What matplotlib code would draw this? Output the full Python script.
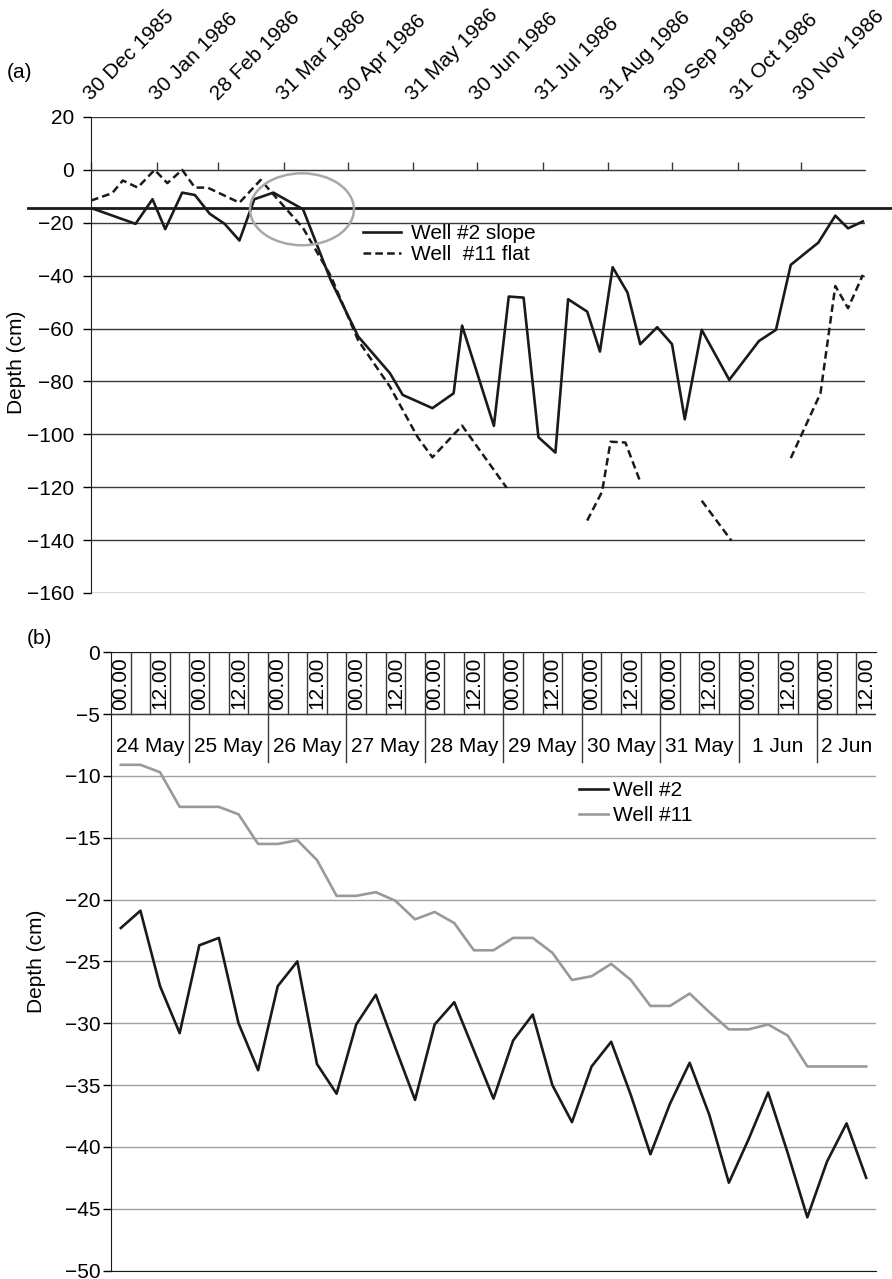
import numpy as np
import matplotlib
matplotlib.use('Agg')
import matplotlib.pyplot as plt
import matplotlib.dates as mdates
from matplotlib.patches import Ellipse

plt.rcParams['font.family'] = ['Liberation Sans', 'DejaVu Sans']
plt.rcParams['lines.scale_dashes'] = False
plt.rcParams['axes.unicode_minus'] = True

W, H, DPI = 892, 1279, 100
FS = 15
INK = '#1a1a1a'

# ---------------- Panel (a) data ----------------
well2_dates = ['1985-12-30', '1986-01-20', '1986-01-28', '1986-02-03', '1986-02-11',
               '1986-02-17', '1986-02-24', '1986-03-03', '1986-03-10', '1986-03-17',
               '1986-03-26', '1986-04-09', '1986-04-22', '1986-05-05', '1986-05-20',
               '1986-05-26', '1986-06-09', '1986-06-19', '1986-06-23', '1986-07-08',
               '1986-07-15', '1986-07-22', '1986-07-29', '1986-08-06', '1986-08-12',
               '1986-08-21', '1986-08-27', '1986-09-02', '1986-09-09', '1986-09-15',
               '1986-09-23', '1986-09-30', '1986-10-06', '1986-10-14', '1986-10-27',
               '1986-11-10', '1986-11-18', '1986-11-25', '1986-12-08', '1986-12-16',
               '1986-12-22', '1986-12-29']
well2_depth = [-14.4, -20.4, -11.1, -22.4, -8.6, -9.5, -16.6, -20.4, -26.7, -11.1,
               -8.6, -14.9, -41.6, -63.0, -76.9, -85.1, -90.1, -84.5, -58.9, -96.8,
               -47.9, -48.3, -101.1, -106.9, -48.9, -53.6, -68.7, -36.8, -46.4, -65.9,
               -59.5, -65.9, -94.3, -60.5, -79.4, -64.7, -60.5, -35.9, -27.5, -17.3,
               -22.1, -19.5]

well11_dates = ['1985-12-30', '1986-01-09', '1986-01-14', '1986-01-21', '1986-01-29',
                '1986-02-04', '1986-02-11', '1986-02-17', '1986-02-23', '1986-03-10',
                '1986-03-20', '1986-04-09', '1986-04-22', '1986-05-05', '1986-05-20',
                '1986-06-02', '1986-06-09', '1986-06-23', '1986-07-14', '1986-08-02',
                '1986-08-21', '1986-08-28', '1986-09-01', '1986-09-08', '1986-09-15',
                '1986-09-29', '1986-10-14', '1986-10-28', '1986-11-10', '1986-11-25',
                '1986-12-09', '1986-12-16', '1986-12-22', '1986-12-29']
well11_depth = [-11.6, -8.8, -4.0, -6.7, 0.0, -5.0, 0.0, -6.7, -6.7, -12.4,
                -3.8, -22.0, -40.0, -64.5, -82.0, -101.0, -108.7, -96.7, -120.2, np.nan,
                -132.6, -121.7, -102.8, -103.1, -117.9, np.nan, -125.1, -140.2, np.nan,
                -109.0, -84.5, -43.9, -52.3, -39.7]

tick_dates = ['1985-12-30', '1986-01-30', '1986-02-28', '1986-03-31', '1986-04-30',
              '1986-05-31', '1986-06-30', '1986-07-31', '1986-08-31', '1986-09-30',
              '1986-10-31', '1986-11-30']
tick_labels = ['30 Dec 1985', '30 Jan 1986', '28 Feb 1986', '31 Mar 1986', '30 Apr 1986',
               '31 May 1986', '30 Jun 1986', '31 Jul 1986', '31 Aug 1986', '30 Sep 1986',
               '31 Oct 1986', '30 Nov 1986']
ref_depth = -14.4

# ---------------- Panel (b) data ----------------
day_labels = ['24 May', '25 May', '26 May', '27 May', '28 May', '29 May',
              '30 May', '31 May', '1 Jun', '2 Jun']
slot_labels = ['00.00', '', '12.00', '']
well2_b = [-22.3, -20.9, -27.0, -30.8, -23.7, -23.1, -30.0, -33.8, -27.0, -25.0,
           -33.3, -35.7, -30.1, -27.7, -32.0, -36.2, -30.1, -28.3, -32.2, -36.1,
           -31.4, -29.3, -35.0, -38.0, -33.5, -31.5, -35.8, -40.6, -36.5, -33.2,
           -37.4, -42.9, -39.4, -35.6, -40.5, -45.7, -41.2, -38.1, -42.5]
well11_b = [-9.1, -9.1, -9.7, -12.5, -12.5, -12.5, -13.1, -15.5, -15.5, -15.2,
            -16.8, -19.7, -19.7, -19.4, -20.1, -21.6, -21.0, -21.9, -24.1, -24.1,
            -23.1, -23.1, -24.3, -26.5, -26.2, -25.2, -26.5, -28.6, -28.6, -27.6,
            -29.1, -30.5, -30.5, -30.1, -31.0, -33.5, -33.5, -33.5, -33.5]

fig = plt.figure(figsize=(W / DPI, H / DPI), dpi=DPI)


def px_axes(l, t, r, b):
    return fig.add_axes([l / W, 1 - b / H, (r - l) / W, (b - t) / H])


# =============== Panel (a) ===============
axa = px_axes(91, 117, 865, 593)
d2 = np.array(well2_dates, dtype='datetime64[D]')
d11 = np.array(well11_dates, dtype='datetime64[D]')
axa.plot(d2, well2_depth, color=INK, lw=1.9, label='Well #2 slope', zorder=4)
axa.plot(d11, well11_depth, color=INK, lw=1.8, dashes=(5.5, 3), label='Well  #11 flat', zorder=4)
axa.set_xlim(np.datetime64('1985-12-30'), np.datetime64('1986-12-30'))
axa.set_ylim(-160, 20)
axa.set_yticks(np.arange(-160, 21, 20))
axa.grid(axis='y', color='#3a3a3a', lw=1.0)
axa.grid(axis='x', visible=False)
axa.set_xticks(np.array(tick_dates, dtype='datetime64[D]'))
axa.set_xticklabels(tick_labels)
axa.spines['bottom'].set_position(('data', 0))
axa.spines['bottom'].set_color('#3a3a3a')
for s in ('top', 'right'):
    axa.spines[s].set_visible(False)
axa.spines['left'].set_color(INK)
axa.tick_params(axis='x', direction='in', length=6, width=1, color='#3a3a3a',
                top=False, labeltop=True, bottom=True, labelbottom=False,
                pad=11.5, labelsize=FS)
for tk in axa.xaxis.get_major_ticks():
    lab = tk.label2
    lab.set_rotation(45)
    lab.set_rotation_mode('anchor')
    lab.set_ha('left')
    lab.set_va('baseline')
axa.tick_params(axis='y', direction='out', length=5.8, width=1, pad=6.5, labelsize=FS)

# reference level line extending beyond axes
axa.axhline(ref_depth, xmin=-0.082, xmax=1.04, color=INK, lw=2.0, clip_on=False, zorder=5)

# highlight ellipse
cen = mdates.date2num(np.datetime64('1986-04-08T12:00'))
axa.add_patch(Ellipse((cen, -14.9), width=49, height=27.2, fill=False,
                      edgecolor='#a8a8a8', lw=1.8, zorder=6))

axa.legend(loc='upper left', bbox_to_anchor=(363 / W, 1 - 224 / H),
           bbox_transform=fig.transFigure, frameon=False, borderpad=0,
           borderaxespad=0, handlelength=1.8, handletextpad=0.5,
           labelspacing=0.1, fontsize=FS)

fig.text(7 / W, 1 - 72 / H, '(a)', ha='left', va='center', fontsize=FS)
fig.text(17 / W, 1 - 362 / H, 'Depth (cm)', rotation=90, ha='center', va='center', fontsize=FS)

# =============== Panel (b) ===============
axb = px_axes(111, 652.3, 876, 1270.5)
n = len(well2_b)
xc = np.arange(n)
axb.plot(xc, well2_b, color=INK, lw=1.9, label='Well #2', zorder=4)
axb.plot(xc, well11_b, color='#999999', lw=1.9, label='Well #11', zorder=4)
axb.set_xlim(-0.5, n - 0.5)
axb.set_ylim(-50, 0)
axb.set_yticks(np.arange(-50, 1, 5))
axb.grid(axis='y', color='#a0a0a0', lw=1.0)
axb.set_xticks([])
axb.spines['right'].set_visible(False)
for s in ('top', 'bottom', 'left'):
    axb.spines[s].set_color(INK)
axb.tick_params(axis='y', direction='out', length=5.8, width=1, pad=2, labelsize=FS)

# header: time-slot cells and day cells
axb.axhline(-5, color='#3a3a3a', lw=1.0, zorder=3)
for i in range(1, n):
    lo = -8.9 if i % len(slot_labels) == 0 else -5
    axb.plot([i - 0.5, i - 0.5], [0, lo], color='#3a3a3a', lw=1.0, zorder=3)
for i in range(n):
    lab = slot_labels[i % len(slot_labels)]
    if lab:
        axb.text(i, -2.5, lab, rotation=90, ha='center', va='center', fontsize=FS)
for k, lab in enumerate(day_labels):
    a = k * len(slot_labels) - 0.5
    b = min(a + len(slot_labels), n - 0.5)
    axb.text((a + b) / 2, -7.6, lab, ha='center', va='center', fontsize=FS)

axb.legend(loc='upper left', bbox_to_anchor=(579 / W, 1 - 781 / H),
           bbox_transform=fig.transFigure, frameon=False, borderpad=0,
           borderaxespad=0, handlelength=1.4, handletextpad=0.25,
           labelspacing=0.3, fontsize=FS)

fig.text(27 / W, 1 - 638 / H, '(b)', ha='left', va='center', fontsize=FS)
fig.text(37 / W, 1 - 961 / H, 'Depth (cm)', rotation=90, ha='center', va='center', fontsize=FS)

fig.savefig('out.png', dpi=DPI)
